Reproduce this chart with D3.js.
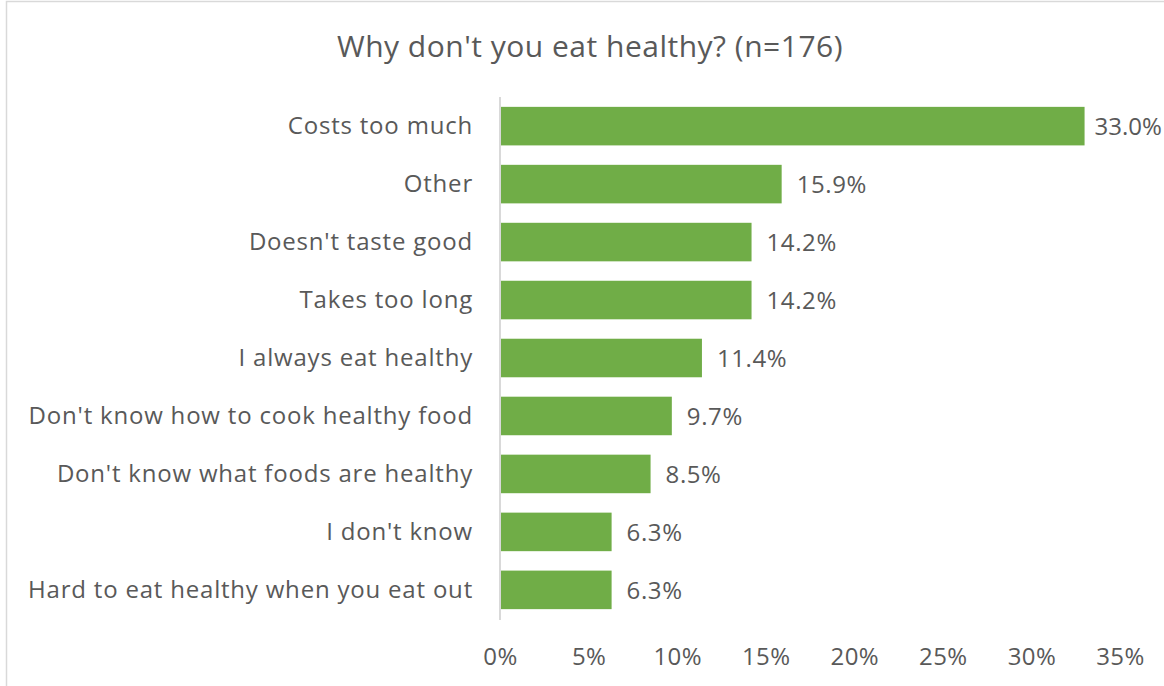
<!DOCTYPE html>
<html><head><meta charset="utf-8">
<script src="https://cdn.jsdelivr.net/npm/d3@7"></script>
<style>
html,body{margin:0;padding:0;background:#fff;overflow:hidden;}
text{font-family:"Open Sans",sans-serif;fill:#595959;}
</style></head>
<body><svg id="c" width="1164" height="686"></svg>
<script>
const categories = ["Costs too much","Other","Doesn't taste good","Takes too long","I always eat healthy","Don't know how to cook healthy food","Don't know what foods are healthy","I don't know","Hard to eat healthy when you eat out"];
const values = [33.0,15.9,14.2,14.2,11.4,9.7,8.5,6.3,6.3];
const ticks = [0,5,10,15,20,25,30,35];
const title = "Why don't you eat healthy? (n=176)";

const svg = d3.select("#c");
svg.append("rect").attr("x",6.5).attr("y",1.5).attr("width",1200).attr("height",720)
  .attr("fill","#fff").attr("stroke","#d9d9d9").attr("stroke-width",1.5);

const x = d3.scaleLinear().domain([0,35]).range([500,1120]);
const y = d3.scaleBand().domain(categories).range([97,619]).paddingInner(0.335).paddingOuter(0.17);

svg.append("text").attr("x",590).attr("y",57).attr("text-anchor","middle")
  .style("font-size","30px").style("letter-spacing","0.5px").text(title);

svg.selectAll("rect.bar").data(values).enter().append("rect").attr("class","bar")
  .attr("x",x(0)).attr("y",(d,i)=>y(categories[i]))
  .attr("width",d=>x(d)-x(0)).attr("height",y.bandwidth())
  .attr("fill","#70AD47");

svg.selectAll("text.val").data(values).enter().append("text").attr("class","val")
  .attr("x",(d,i)=>x(d)+(i===0?10:15)).attr("y",(d,i)=>y(categories[i])+y.bandwidth()/2)
  .attr("dy","0.36em").style("font-size","24px")
  .style("letter-spacing",(d,i)=>i===0?"0px":"0.6px").text(d=>d.toFixed(1)+"%");

const yAxis = svg.append("g").attr("transform",`translate(${x(0)},0)`)
  .call(d3.axisLeft(y).tickSize(0).tickPadding(27));
yAxis.select(".domain").remove();
yAxis.selectAll("text").style("font-size","24px").style("letter-spacing","0.8px").attr("fill","#595959");

svg.append("line").attr("x1",x(0)).attr("x2",x(0)).attr("y1",97).attr("y2",620)
  .attr("stroke","#d9d9d9").attr("stroke-width",2);

const xAxis = svg.append("g").attr("transform","translate(0,642)")
  .call(d3.axisBottom(x).tickValues(ticks).tickSize(0).tickPadding(6).tickFormat(d=>d+"%"));
xAxis.select(".domain").remove();
xAxis.selectAll("text").style("font-size","24px").style("letter-spacing","0.4px").attr("fill","#595959");
</script></body></html>
